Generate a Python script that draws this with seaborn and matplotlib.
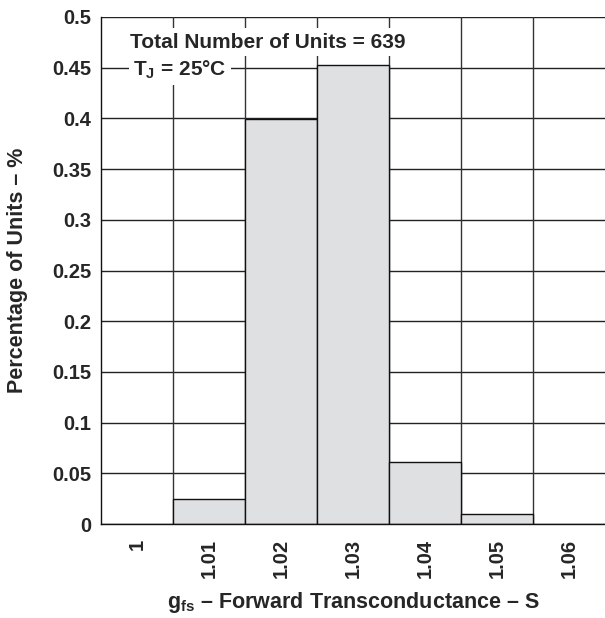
import numpy as np
import pandas as pd
import matplotlib
matplotlib.use("Agg")
import matplotlib.pyplot as plt
import seaborn as sns

categories = ["1", "1.01", "1.02", "1.03", "1.04", "1.05", "1.06"]
percentages = [0.0, 0.025, 0.399, 0.453, 0.061, 0.010, 0.0]
y_ticks = [0, 0.05, 0.1, 0.15, 0.2, 0.25, 0.3, 0.35, 0.4, 0.45, 0.5]
y_tick_labels = ["0", "0.05", "0.1", "0.15", "0.2", "0.25", "0.3", "0.35", "0.4", "0.45", "0.5"]

sns.set_style("white")
plt.rcParams["font.family"] = ["Liberation Sans", "DejaVu Sans"]
plt.rcParams["font.weight"] = "bold"
plt.rcParams["mathtext.fontset"] = "custom"
plt.rcParams["mathtext.bf"] = "Liberation Sans:bold"
plt.rcParams["mathtext.rm"] = "Liberation Sans:bold"
plt.rcParams["mathtext.it"] = "Liberation Sans:bold"

df = pd.DataFrame({"gfs": categories, "pct": percentages})

fig = plt.figure(figsize=(6.05, 6.18), dpi=100)
ax = fig.add_axes([0.167, 0.152, 0.833, 0.8205])

sns.barplot(data=df, x="gfs", y="pct", order=categories, width=1.0,
            color="#dfe0e2", saturation=1, edgecolor="#111111", linewidth=1.0, ax=ax, zorder=2)

ax.set_xlim(-0.5, len(categories) - 0.5)
ax.set_ylim(0, 0.5)
ax.set_yticks(y_ticks)
ax.set_yticklabels(y_tick_labels, fontsize=14.5, fontweight="bold")
ax.set_xticks(range(len(categories)))
ax.set_xticklabels(categories, rotation=90, fontsize=14.5, fontweight="bold")

ax.grid(False)
for y in y_ticks[1:]:
    ax.axhline(y, color="#222222", lw=1.0, zorder=1)
for x in np.arange(len(categories) - 1) + 0.5:
    ax.axvline(x, color="#333333", lw=1.0, zorder=1)

for s in ["top", "right"]:
    ax.spines[s].set_visible(False)
for s in ["left", "bottom"]:
    ax.spines[s].set_color("#111111")
    ax.spines[s].set_linewidth(1.0)
ax.tick_params(axis="y", which="major", length=3, color="#111111", pad=4)
ax.tick_params(axis="x", which="major", length=0, pad=11)

ax.set_xlabel(r"$\mathbf{g_{fs}}$ – Forward Transconductance – S", fontsize=15.5, fontweight="bold", labelpad=8)
ax.set_ylabel("Percentage of Units – %", fontsize=15.5, fontweight="bold", labelpad=17)

ax.text(-0.1, 0.4753, "Total Number of Units = 639", fontsize=15, fontweight="bold",
        va="center", ha="left", zorder=5,
        bbox=dict(facecolor="white", edgecolor="none", pad=3))
ax.text(-0.056, 0.4477, r"$\mathbf{T_J}$ = 25°C", fontsize=15, fontweight="bold",
        va="center", ha="left", zorder=5,
        bbox=dict(facecolor="white", edgecolor="none", pad=3))

fig.savefig("out.png", dpi=100)
